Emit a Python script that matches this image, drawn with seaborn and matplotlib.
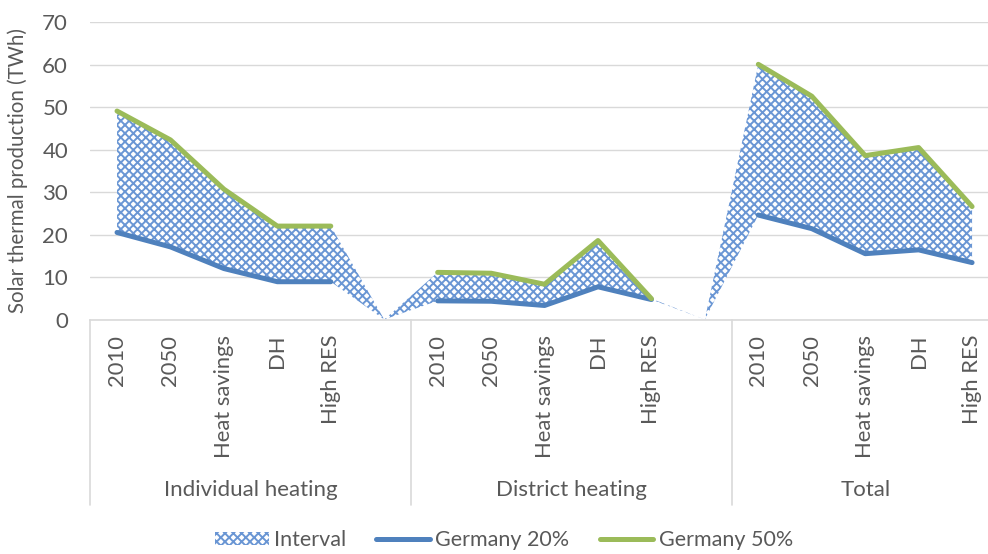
import numpy as np
import pandas as pd
import matplotlib
matplotlib.use("Agg")
import matplotlib.pyplot as plt
import matplotlib.transforms as mtransforms
from matplotlib.lines import Line2D
from matplotlib.patches import Patch
import seaborn as sns

# --- data -------------------------------------------------------------
groups = ["Individual heating", "District heating", "Total"]
scenarios = ["2010", "2050", "Heat savings", "DH", "High RES"]

germany20_individual = [20.5, 17.1, 12.0, 8.9, 8.9]
germany50_individual = [49.1, 42.3, 30.7, 22.0, 22.0]
germany20_district = [4.4, 4.3, 3.3, 7.7, 4.7]
germany50_district = [11.1, 10.9, 8.3, 18.6, 4.9]
germany20_total = [24.6, 21.4, 15.5, 16.4, 13.4]
germany50_total = [60.1, 52.6, 38.6, 40.5, 26.6]

y_ticks = [0, 10, 20, 30, 40, 50, 60, 70]

# --- styling ----------------------------------------------------------
sns.set_theme(style="white")
plt.rcParams["font.family"] = ["Lato", "DejaVu Sans"]
TEXT = "#595959"
GRID = "#D9D9D9"
BLUE = "#4F81BD"
GREEN = "#9BBB59"
HATCH = "#6A96D4"
plt.rcParams["hatch.linewidth"] = 1.4
plt.rcParams["hatch.color"] = HATCH

# --- build the category axis: 5 scenarios per group, one empty slot between groups
low_groups = [germany20_individual, germany20_district, germany20_total]
high_groups = [germany50_individual, germany50_district, germany50_total]

tick_labels, low_all, high_all, rows = [], [], [], []
pos = 0
group_spans = []
for gi, (g, lo, hi) in enumerate(zip(groups, low_groups, high_groups)):
    start = pos
    for s, a, b in zip(scenarios, lo, hi):
        tick_labels.append(s)
        low_all.append(a)
        high_all.append(b)
        rows.append({"pos": pos, "value": a, "series": "Germany 20%", "segment": f"{g}-20"})
        rows.append({"pos": pos, "value": b, "series": "Germany 50%", "segment": f"{g}-50"})
        pos += 1
    if gi < len(groups) - 1:
        # blank category: area drops to zero, lines break
        tick_labels.append("")
        low_all.append(0.0)
        high_all.append(0.0)
        pos += 1
    group_spans.append((start - 0.5, pos - 0.5))

n = len(tick_labels)
x = np.arange(n)
df = pd.DataFrame(rows)

fig = plt.figure(figsize=(9.88, 5.54), dpi=100)
ax = fig.add_axes([90.3 / 988, 1 - 319.5 / 554, 908.5 / 988, 297.2 / 554])

# interval band between the two scenarios
ax.fill_between(x, low_all, high_all, facecolor="white", edgecolor=HATCH,
                hatch="xxxx", linewidth=0, zorder=2)

sns.lineplot(data=df, x="pos", y="value", hue="series", units="segment",
             estimator=None, sort=False, legend=False,
             palette={"Germany 20%": BLUE, "Germany 50%": GREEN},
             linewidth=3.6, solid_capstyle="round", solid_joinstyle="round",
             ax=ax, zorder=3)

ax.set_xlim(-0.5, n - 0.5)
ax.set_ylim(0, 70)
ax.set_yticks(y_ticks)
ax.set_yticklabels([str(t) for t in y_ticks])
ax.yaxis.grid(True, color=GRID, linewidth=1.0)
ax.set_axisbelow(True)
ax.set_xticks(x)
ax.set_xticklabels(tick_labels, rotation=90, color=TEXT, fontsize=15.8)
ax.tick_params(axis="x", length=0, pad=11)
ax.tick_params(axis="y", length=0, pad=16, labelcolor=TEXT, labelsize=16)
ax.set_xlabel("")
ax.set_ylabel("")
for side in ["left", "right", "top"]:
    ax.spines[side].set_visible(False)
ax.spines["bottom"].set_color(GRID)
ax.spines["bottom"].set_linewidth(1.2)

# group labels and separators below the axis
trans = mtransforms.blended_transform_factory(ax.transData, ax.transAxes)
sep_bottom = (319.5 - 505) / 297.2
for g, (a, b) in zip(groups, group_spans):
    ax.text((a + b) / 2, (319.5 - 490) / 297.2, g, transform=trans,
            ha="center", va="center", color=TEXT, fontsize=16)
for xs in [-0.5] + [b for (_, b) in group_spans]:
    ax.add_line(Line2D([xs, xs], [0, sep_bottom], transform=trans,
                       color=GRID, linewidth=1.2, clip_on=False))

fig.text(18 / 988, 1 - 171 / 554, "Solar thermal production (TWh)",
         rotation=90, ha="center", va="center", color=TEXT, fontsize=14.8)

handles = [
    Patch(facecolor="white", edgecolor=HATCH, hatch="xxxx", linewidth=0, label="Interval"),
    Line2D([], [], color=BLUE, linewidth=3.6, solid_capstyle="round", label="Germany 20%"),
    Line2D([], [], color=GREEN, linewidth=3.6, solid_capstyle="round", label="Germany 50%"),
]
leg = fig.legend(handles=handles, loc="center", bbox_to_anchor=(0.51, 1 - 540 / 554),
                 ncol=3, frameon=False, fontsize=15.5, handlelength=2.5,
                 handleheight=0.6, handletextpad=0.25, columnspacing=1.4)
for t in leg.get_texts():
    t.set_color(TEXT)

fig.savefig("out.png", dpi=100)
